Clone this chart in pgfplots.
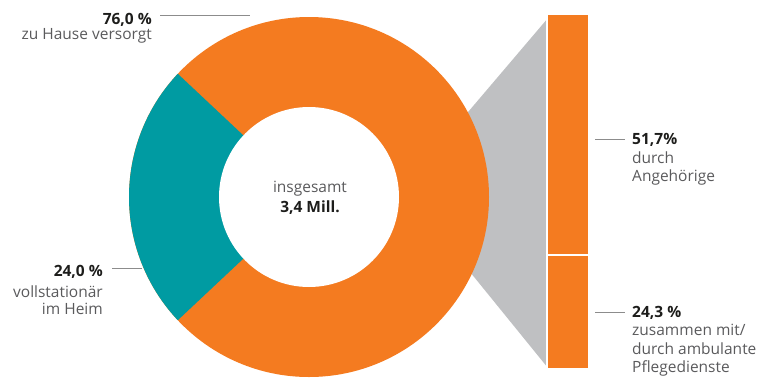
\documentclass[border=0pt]{standalone}
\usepackage{pgfplots}
\pgfplotsset{compat=1.18}
\usepackage{fontspec}
\setmainfont{Open Sans}
\definecolor{dorange}{HTML}{F47B20}
\definecolor{dteal}{HTML}{009BA2}
\definecolor{dgray}{HTML}{BFC0C2}
\definecolor{txt}{HTML}{5A5A5C}
\definecolor{bld}{HTML}{1D1D1B}
\definecolor{lead}{HTML}{8C8C8C}
\tikzset{lbl/.style={font=\fontsize{15.5}{18.5}\selectfont, inner sep=0pt}}
\begin{document}
\begin{tikzpicture}
\useasboundingbox (0,0) rectangle (758pt,381pt);
\begin{axis}[at={(0,0)}, anchor=south west, scale only axis,
  width=758pt, height=381pt, xmin=0, xmax=758, ymin=0, ymax=381,
  y dir=reverse, hide axis, clip=false]
% gray connector
\addplot[fill=dgray, draw=none] coordinates {(440,145) (548,18) (548,368) (440,235)} -- cycle;
% donut
\pgfmathsetmacro\half{24.0*3.6/2}
\pgfmathsetmacro\sa{180-\half}
\pgfmathsetmacro\ea{180+\half}
\fill[dorange] (axis cs:309,197) circle[radius=180pt];
\fill[dteal] (axis cs:309,197) -- ++(\sa:180pt) arc[start angle=\sa, end angle=\ea, radius=180pt] -- cycle;
\fill[white] (axis cs:309,197) circle[radius=90pt];
% leader lines
\draw[lead, line width=0.9pt] (axis cs:160,15.7) -- (axis cs:250,15.7);
\draw[lead, line width=0.9pt] (axis cs:112,268) -- (axis cs:142,268);
\draw[lead, line width=0.9pt] (axis cs:595,139) -- (axis cs:625,139);
\draw[lead, line width=0.9pt] (axis cs:595,312) -- (axis cs:625,312);
% labels
\node[lbl, anchor=base east, text=bld] at (axis cs:152,24) {\bfseries 76,0 \%};
\node[lbl, anchor=base east, text=txt] at (axis cs:152,39) {zu Hause versorgt};
\node[lbl, anchor=base east, text=bld] at (axis cs:103,276) {\bfseries 24,0 \%};
\node[lbl, anchor=base east, text=txt] at (axis cs:103,297) {vollstationär};
\node[lbl, anchor=base east, text=txt] at (axis cs:103,314) {im Heim};
\node[lbl, anchor=base west, text=bld] at (axis cs:632,144) {\bfseries 51,7\%};
\node[lbl, anchor=base west, text=txt] at (axis cs:632,163) {durch};
\node[lbl, anchor=base west, text=txt] at (axis cs:632,181) {Angehörige};
\node[lbl, anchor=base west, text=bld] at (axis cs:632,317) {\bfseries 24,3 \%};
\node[lbl, anchor=base west, text=txt] at (axis cs:632,335.5) {zusammen mit/};
\node[lbl, anchor=base west, text=txt] at (axis cs:632,354) {durch ambulante};
\node[lbl, anchor=base west, text=txt] at (axis cs:632,372.5) {Pflegedienste};
\node[lbl, anchor=base, text=txt] at (axis cs:310,192) {insgesamt};
\node[lbl, anchor=base, text=bld] at (axis cs:310,212) {\bfseries 3,4 Mill.};
\end{axis}
\begin{axis}[at={(547pt,12pt)}, anchor=south west, scale only axis,
  width=42pt, height=355pt, xmin=-0.5, xmax=0.5, ymin=0, ymax=76,
  y dir=reverse, hide axis, clip=false, ybar stacked, bar width=42pt]
\addplot[fill=dorange, draw=white, line width=2pt] coordinates {(0,51.7)};
\addplot[fill=dorange, draw=white, line width=2pt] coordinates {(0,24.3)};
\end{axis}
\end{tikzpicture}
\end{document}
